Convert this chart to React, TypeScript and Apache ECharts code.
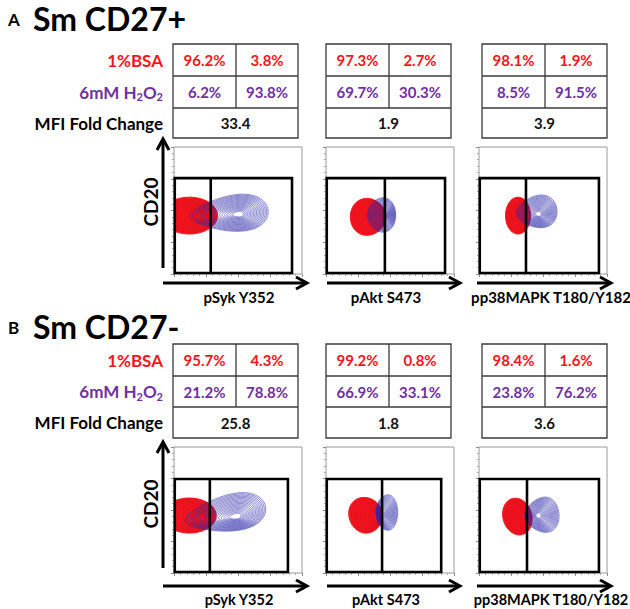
import React, { useEffect, useRef } from "react";
import * as echarts from "echarts";

// ---------- data ----------
const panelLetters = ["A", "B"];
const panelTitles = ["Sm CD27+", "Sm CD27-"];
const markerLabels = ["pSyk Y352", "pAkt S473", "pp38MAPK T180/Y182"];
const yAxisLabel = "CD20";
const bsaLabel = "1%BSA";
const foldLabel = "MFI Fold Change";

const bsaPctA = [[96.2, 3.8], [97.3, 2.7], [98.1, 1.9]];
const h2o2PctA = [[6.2, 93.8], [69.7, 30.3], [8.5, 91.5]];
const foldA = [33.4, 1.9, 3.9];
const bsaPctB = [[95.7, 4.3], [99.2, 0.8], [98.4, 1.6]];
const h2o2PctB = [[21.2, 78.8], [66.9, 33.1], [23.8, 76.2]];
const foldB = [25.8, 1.8, 3.6];

// gates: [divider x, right x, top y] on a 0-100 display scale
const gatesA = [[28.7, 92.2, 75.5], [46, 93, 75.5], [36.7, 93.7, 75.5]];
const gatesB = [[28, 89, 74.6], [43.8, 90, 74.6], [37.5, 93.7, 74.6]];

// populations: [peakX, peakY, outerCenterX, outerCenterY, radiusX, radiusY, tiltDeg, taper]
const bsaPopA = [[20, 46, 12, 46, 22, 14.5, 0, 0], [42, 46, 33, 45, 14, 14.5, 0, -0.08], [36, 46, 30.5, 46, 9.8, 14.5, 0, 0]];
const h2o2PopA = [[51, 47, 43, 47.6, 30.6, 13.8, 4, 0.35], [46, 46.5, 43.5, 46.5, 11, 13.5, 0, 0.1], [46.5, 47, 45, 49, 16, 12.5, 5, 0.25]];
const bsaPopB = [[22.5, 44, 12, 45.6, 21, 13.9, 0, 0], [40, 44, 31, 46, 13, 14.3, 20, -0.05], [36, 44, 30, 44.8, 11.3, 14.8, 15, 0]];
const h2o2PopB = [[49, 44.5, 40, 47, 32, 14, 10, 0.35], [43, 46, 47.5, 48, 8.5, 14, 0, 0.1], [46, 45.5, 49, 46, 13.5, 13.6, 5, 0.25]];

// ---------- styles / layout ----------
const FONT = "Lato, 'Open Sans', sans-serif";
const RED = "#f5141c";
const PURPLE = "#7030a0";
const BLUE = "#2c2aa8";
const TABLE_LINE = "#3a3a3a";

const plotLefts = [174, 326, 479];
const plotWidth = 128;
const panelTops = [147, 447];
const plotHeight = 127;
const tableLefts = [173, 326, 482];
const tableWidth = 125;
const tableRows = [[44, 76, 108, 138], [344, 376, 407, 438]];
const arrowY = [283, 586];
const arrowX = [[163, 307], [327, 460], [477, 611]];
const yArrow = [[268, 139], [568, 442]];
const xLabelX = [239, 386, 551];
const xLabelY = [297, 599];
const cd20Y = [202, 504];
const titleY = [18, 326];

function popRender(kind: "red" | "blue") {
  return (params: any, api: any) => {
    const px = api.value(0), py = api.value(1), cx = api.value(2), cy = api.value(3);
    const rx = api.value(4), ry = api.value(5), ang = (api.value(6) * Math.PI) / 180;
    const taper = api.value(7) || 0;
    const levels = kind === "red" ? 9 : 18;
    const children: any[] = [];
    for (let k = 0; k < levels; k++) {
      const s = 1 - (k / levels) * 0.9;
      const ccx = px + (cx - px) * s, ccy = py + (cy - py) * s;
      const pts: number[][] = [];
      for (let j = 0; j < 64; j++) {
        const t = (j / 64) * Math.PI * 2;
        const lx = rx * s * Math.cos(t);
        const ly = ry * s * Math.sin(t) * (1 + taper * Math.cos(t));
        const x = ccx + lx * Math.cos(ang) - ly * Math.sin(ang);
        const y = ccy + lx * Math.sin(ang) + ly * Math.cos(ang);
        pts.push(api.coord([x, y]));
      }
      if (kind === "red") {
        children.push({
          type: "polygon",
          shape: { points: pts },
          style: k === 0
            ? { fill: RED, stroke: RED, lineWidth: 1 }
            : { fill: "none", stroke: "#b00c30", lineWidth: 0.6, opacity: 0.5 },
        });
      } else {
        children.push({
          type: "polygon",
          shape: { points: pts },
          style: { fill: "none", stroke: BLUE, lineWidth: 0.7, opacity: 0.8 },
        });
      }
    }
    return { type: "group", children };
  };
}

function gateRender(params: any, api: any) {
  const div = api.value(0), right = api.value(1), top = api.value(2);
  const p0 = api.coord([0.6, 0]);
  const p1 = api.coord([right, top]);
  const d0 = api.coord([div, 0]);
  const d1 = api.coord([div, top]);
  const st = { fill: "none", stroke: "#000", lineWidth: 2.6 };
  return {
    type: "group",
    children: [
      { type: "rect", shape: { x: p0[0], y: p1[1], width: p1[0] - p0[0], height: p0[1] - p1[1] - 1 }, style: st },
      { type: "line", shape: { x1: d0[0], y1: d0[1] - 1, x2: d1[0], y2: d1[1] }, style: st },
    ],
  };
}

function txt(text: string, x: number, y: number, size: number, color: string, align = "center", weight = "bold", extra: any = {}) {
  return {
    type: "text",
    x,
    y,
    silent: true,
    ...extra,
    style: {
      text,
      fill: color,
      fontSize: size,
      fontWeight: weight,
      fontFamily: FONT,
      align,
      verticalAlign: "middle",
      textAlign: align,
      textVerticalAlign: "middle",
    },
  };
}

function tableEls(x0: number, rows: number[], bsa: number[], h2o2: number[], fold: number) {
  const w = tableWidth;
  const mid = x0 + Math.round(w / 2);
  const ls = { stroke: TABLE_LINE, lineWidth: 1.3 };
  const els: any[] = [
    { type: "rect", silent: true, shape: { x: x0, y: rows[0], width: w, height: rows[3] - rows[0] }, style: { fill: "none", ...ls } },
    { type: "line", silent: true, shape: { x1: x0, y1: rows[1], x2: x0 + w, y2: rows[1] }, style: ls },
    { type: "line", silent: true, shape: { x1: x0, y1: rows[2], x2: x0 + w, y2: rows[2] }, style: ls },
    { type: "line", silent: true, shape: { x1: mid, y1: rows[0], x2: mid, y2: rows[2] }, style: ls },
  ];
  const c1 = (x0 + mid) / 2, c2 = (mid + x0 + w) / 2;
  const r1 = (rows[0] + rows[1]) / 2, r2 = (rows[1] + rows[2]) / 2, r3 = (rows[2] + rows[3]) / 2;
  els.push(txt(`${bsa[0].toFixed(1)}%`, c1, r1, 15, RED));
  els.push(txt(`${bsa[1].toFixed(1)}%`, c2, r1, 15, RED));
  els.push(txt(`${h2o2[0].toFixed(1)}%`, c1, r2, 15, PURPLE));
  els.push(txt(`${h2o2[1].toFixed(1)}%`, c2, r2, 15, PURPLE));
  els.push(txt(fold.toFixed(1), x0 + w / 2, r3, 15, "#111"));
  return els;
}

function arrowRight(x1: number, x2: number, y: number) {
  const st = { fill: "none", stroke: "#000", lineWidth: 3 };
  return [
    { type: "line", silent: true, shape: { x1, y1: y, x2: x2 - 1, y2: y }, style: st },
    { type: "polyline", silent: true, shape: { points: [[x2 - 11, y - 6], [x2, y], [x2 - 11, y + 6]] }, style: st },
  ];
}
function arrowUp(x: number, y1: number, y2: number) {
  const st = { fill: "none", stroke: "#000", lineWidth: 3 };
  return [
    { type: "line", silent: true, shape: { x1: x, y1, x2: x, y2: y2 + 1 }, style: st },
    { type: "polyline", silent: true, shape: { points: [[x - 6, y2 + 11], [x, y2], [x + 6, y2 + 11]] }, style: st },
  ];
}

export default function App() {
  const ref = useRef<HTMLDivElement>(null);
  useEffect(() => {
    if (!ref.current) return;
    const chart = echarts.init(ref.current, undefined, { renderer: "svg" });
    const grids: any[] = [], xAxes: any[] = [], yAxes: any[] = [], series: any[] = [];
    const graphics: any[] = [];
    const pct = [[bsaPctA, h2o2PctA, foldA], [bsaPctB, h2o2PctB, foldB]];
    const gates = [gatesA, gatesB];
    const bsaPops = [bsaPopA, bsaPopB];
    const h2o2Pops = [h2o2PopA, h2o2PopB];

    for (let p = 0; p < 2; p++) {
      graphics.push(txt(panelLetters[p], 8, titleY[p] + 1, 17, "#000", "left", "bold"));
      graphics.push(txt(panelTitles[p], 33, titleY[p], 32, "#000", "left", "bold"));
      const rows = tableRows[p];
      graphics.push(txt(bsaLabel, 163, (rows[0] + rows[1]) / 2, 17, RED, "right"));
      graphics.push({
        type: "text",
        x: 163,
        y: (rows[1] + rows[2]) / 2,
        silent: true,
        style: {
          text: "{m|6mM H}{s|2}{m|O}{s|2}",
          align: "right",
          verticalAlign: "middle",
          textAlign: "right",
          textVerticalAlign: "middle",
          rich: {
            m: { fontSize: 17, fontWeight: "bold", fontFamily: FONT, fill: PURPLE, lineHeight: 20 },
            s: { fontSize: 11, fontWeight: "bold", fontFamily: FONT, fill: PURPLE, lineHeight: 10, verticalAlign: "bottom" },
          },
        },
      });
      graphics.push(txt(foldLabel, 163, (rows[2] + rows[3]) / 2, 17, "#000", "right"));
      graphics.push(...arrowUp(163, yArrow[p][0], yArrow[p][1]));
      graphics.push(txt(yAxisLabel, 150, cd20Y[p], 19, "#000", "center", "bold", { rotation: Math.PI / 2 }));

      for (let c = 0; c < 3; c++) {
        const gi = p * 3 + c;
        graphics.push(...tableEls(tableLefts[c], rows, pct[p][0][c] as number[], pct[p][1][c] as number[], pct[p][2][c] as number));
        graphics.push(...arrowRight(arrowX[c][0], arrowX[c][1], arrowY[p]));
        graphics.push(txt(markerLabels[c], xLabelX[c], xLabelY[p], p === 1 ? 14.5 : 15, "#000", "center", "bold"));

        grids.push({
          left: plotLefts[c],
          top: panelTops[p],
          width: plotWidth,
          height: plotHeight - (p === 1 ? 1 : 0),
          show: true,
          borderColor: "#9a9a9a",
          borderWidth: 1,
          backgroundColor: "#fff",
        });
        const axisCommon = {
          gridIndex: gi,
          type: "value",
          min: 0,
          max: 100,
          interval: 25,
          axisLine: { show: false },
          axisLabel: { show: false },
          splitLine: { show: false },
          axisTick: { show: true, length: 3, lineStyle: { color: "#8a8a8a" } },
          minorTick: { show: true, splitNumber: 5, length: 2, lineStyle: { color: "#a8a8a8" } },
        };
        xAxes.push({ ...axisCommon });
        yAxes.push({ ...axisCommon });

        series.push({
          type: "custom",
          name: `bsa-${gi}`,
          xAxisIndex: gi,
          yAxisIndex: gi,
          clip: true,
          z: 2,
          renderItem: popRender("red"),
          data: [bsaPops[p][c]],
        });
        series.push({
          type: "custom",
          name: `h2o2-${gi}`,
          xAxisIndex: gi,
          yAxisIndex: gi,
          clip: true,
          z: 3,
          renderItem: popRender("blue"),
          data: [h2o2Pops[p][c]],
        });
        series.push({
          type: "custom",
          name: `gate-${gi}`,
          xAxisIndex: gi,
          yAxisIndex: gi,
          z: 4,
          renderItem: gateRender,
          data: [gates[p][c]],
        });
      }
    }

    chart.setOption({
      animation: false,
      backgroundColor: "#fff",
      grid: grids,
      xAxis: xAxes,
      yAxis: yAxes,
      series,
      graphic: { elements: graphics },
    });
    return () => chart.dispose();
  }, []);
  return <div ref={ref} style={{ position: "absolute", left: 0, top: 0, width: 630, height: 609 }} />;
}
